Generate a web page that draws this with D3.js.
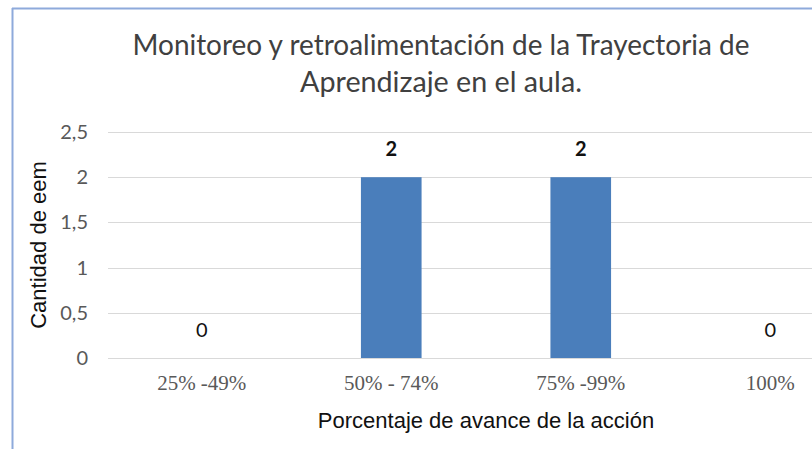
<!DOCTYPE html>
<html><head><meta charset="utf-8">
<script src="https://cdn.jsdelivr.net/npm/d3@7"></script>
<style>body{margin:0;background:#fff;overflow:hidden}</style>
</head><body>
<svg id="c" width="812" height="449"></svg>
<script>
const categories = ["25% -49%", "50% - 74%", "75% -99%", "100%"];
const values = [0, 2, 2, 0];
const yTicks = [0, 0.5, 1, 1.5, 2, 2.5];
const titleLines = ["Monitoreo y retroalimentación de la Trayectoria de", "Aprendizaje en el aula."];
const yTitle = "Cantidad de eem";
const xTitle = "Porcentaje de avance de la acción";

const svg = d3.select("#c");
// frame
svg.append("line").attr("x1",12).attr("x2",812).attr("y1",8.5).attr("y2",8.5).attr("stroke","#8eaadb").attr("stroke-width",2);
svg.append("line").attr("x1",12.5).attr("x2",12.5).attr("y1",8).attr("y2",449).attr("stroke","#8eaadb").attr("stroke-width",2);

const x = d3.scaleBand().domain(categories).range([107, 865]).paddingInner(0.68).paddingOuter(0.34);
const y = d3.scaleLinear().domain([0, 2.5]).range([358, 132]);

// gridlines
svg.append("g").selectAll("line").data(yTicks).join("line")
  .attr("x1",108).attr("x2",812).attr("y1",d=>Math.round(y(d))+0.5).attr("y2",d=>Math.round(y(d))+0.5)
  .attr("stroke","#d9d9d9").attr("stroke-width",1.2);

// y tick labels
svg.append("g").selectAll("text").data(yTicks).join("text")
  .attr("x",88).attr("y",d=>y(d)+7).attr("text-anchor","end")
  .attr("font-family","Lato, 'Open Sans', sans-serif").attr("font-size",20).attr("fill","#595959")
  .text(d=>String(d).replace(".",","));

// bars
svg.append("g").selectAll("rect").data(values).join("rect")
  .attr("x",(d,i)=>x(categories[i])).attr("width",x.bandwidth())
  .attr("y",d=>y(d)).attr("height",d=>y(0)-y(d)).attr("fill","#4a7ebb");

// data labels
svg.append("g").selectAll("text").data(values).join("text")
  .attr("x",(d,i)=>x(categories[i])+x.bandwidth()/2).attr("y",d=>y(d)-21)
  .attr("text-anchor","middle").attr("font-family","Lato, 'Open Sans', sans-serif")
  .attr("font-size",20).attr("font-weight",d=>d>0?"bold":"normal").attr("fill","#111")
  .text(d=>d);

// x tick labels
svg.append("g").selectAll("text").data(categories).join("text")
  .attr("x",d=>x(d)+x.bandwidth()/2).attr("y",390).attr("text-anchor","middle")
  .attr("font-family","'Liberation Serif', 'Times New Roman', serif").attr("font-size",21).attr("fill","#595959")
  .text(d=>d);

// axis titles
svg.append("text").attr("x",486).attr("y",428).attr("text-anchor","middle")
  .attr("font-family","'Liberation Sans', Arial, sans-serif").attr("font-size",22).attr("fill","#111").text(xTitle);
svg.append("text").attr("transform","translate(46,245) rotate(-90)").attr("text-anchor","middle")
  .attr("font-family","'Liberation Sans', Arial, sans-serif").attr("font-size",22).attr("fill","#111").text(yTitle);

// title
const tl = svg.append("g").selectAll("text").data(titleLines).join("text")
  .attr("x",441).attr("y",(d,i)=>55+i*37).attr("text-anchor","middle")
  .attr("font-family","Lato, 'Open Sans', sans-serif").attr("font-size",24).attr("fill","#404040")
  .text(d=>d);
const targetW = [617, 282];
tl.each(function(d,i){ const w=this.getComputedTextLength(); d3.select(this).attr("font-size", 24*targetW[i]/w); });
</script>
</body></html>
